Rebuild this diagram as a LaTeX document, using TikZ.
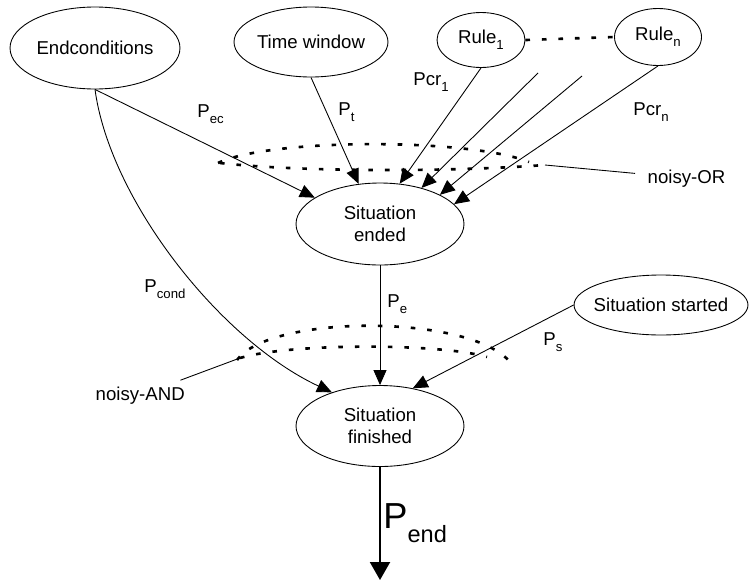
\documentclass[tikz,border=0pt]{standalone}
\usepackage{fontspec}
\setmainfont{Liberation Sans}
\usetikzlibrary{shapes.geometric,arrows.meta}
\newcommand{\lowsub}[1]{\raisebox{-3.5pt}{\fontsize{7.5}{9}\selectfont #1}}

\begin{document}
\begin{tikzpicture}[x=0.02cm,y=-0.02cm,line width=0.5pt,
  font=\fontsize{10.6}{12.6}\selectfont,
  state/.style={draw,ellipse,inner sep=0pt,align=center},
  link/.style={-{Triangle[length=3mm,width=2.6mm]}},
  dots/.style={line width=1.5pt,dash pattern=on 2.6pt off 6.8pt},
  plab/.style={anchor=base west,inner sep=0pt}]
\useasboundingbox (0,0) rectangle (750,582);

\node[state,minimum width=3.4cm,minimum height=1.64cm] (endc) at (95,48) {Endconditions};
\node[state,minimum width=3.08cm,minimum height=1.4cm] (tw) at (311,42) {Time window};
\node[state,minimum width=1.76cm,minimum height=1.1cm] (r1) at (481,40) {Rule\lowsub{1}};
\node[state,minimum width=1.74cm,minimum height=1.14cm] (rn) at (658,37) {Rule\lowsub{n}};
\node[state,minimum width=3.36cm,minimum height=1.64cm] (ended) at (380,224) {Situation\\ended};
\node[state,minimum width=3.48cm,minimum height=1.2cm] (sst) at (661,305) {\makebox[2cm]{Situation started}};
\node[state,minimum width=3.36cm,minimum height=1.62cm] (fin) at (380,426) {Situation\\finished};

\coordinate (ra) at (538,73);
\coordinate (rb) at (582,76);
\coordinate (endpt) at (380,580);

\draw[dots] (r1.east) -- (rn.west);

\draw[link] (endc.south) -- (ended.158);
\draw[link] (tw.south) -- (ended.118);
\draw[link] (r1.south) -- (ended.64);
\draw[link] (ra) -- (ended.41);
\draw[link] (rb) -- (ended.26);
\draw[link] (rn.south) -- (ended.15);
\draw[link] (ended) -- (fin);
\draw[link] (endc.south) .. controls (110,200) and (220,340) .. (fin.145);
\draw[link] (sst.west) -- (fin.49);
\draw[-{Triangle[length=3.6mm,width=4mm]},line width=1.2pt] (fin) -- (endpt);

\node[plab] (pec) at (197,117) {P\lowsub{ec}};
\node[plab] (pt) at (338,115) {P\lowsub{t}};
\node[plab] (pcr1) at (413,85) {Pcr\lowsub{1}};
\node[plab] (pcrn) at (633,115) {Pcr\lowsub{n}};
\node[plab] (pcond) at (144,292) {P\lowsub{cond}};
\node[plab] (pe) at (387,307) {P\lowsub{e}};
\node[plab] (ps) at (543,345) {P\lowsub{s}};
\node[plab] (pend) at (383,528) {\fontsize{20.6}{24}\selectfont P\raisebox{-8pt}{\fontsize{13.4}{16}\selectfont end}};

% noisy-OR
\draw[dots] (218,163) .. controls (270,138) and (470,138) .. (529,162);
\draw[dots] (220,163) .. controls (300,172) and (450,172) .. (545,165);
\coordinate (orpt) at (545,165);
\node[anchor=base west,inner xsep=7pt] (orlbl) at (635,183) {noisy-OR};
\draw (orpt) -- (orlbl);

% noisy-AND
\draw[dots] (237,360) .. controls (270,314) and (470,314) .. (510,362);
\draw[dots] (240,358) .. controls (290,343) and (440,343) .. (487,357);
\coordinate (andpt) at (240,358);
\node[anchor=base west,inner xsep=7pt] (andlbl) at (83,400) {noisy-AND};
\draw (andlbl) -- (andpt);

\end{tikzpicture}
\end{document}
